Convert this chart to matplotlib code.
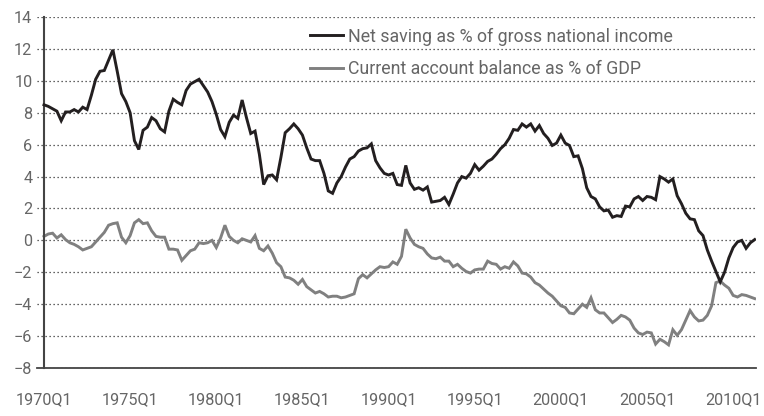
import numpy as np
import matplotlib.pyplot as plt


# quarterly values, 1970Q1 .. 2011Q2
net_saving = [
    8.5, 8.4, 8.25, 8.1, 7.5, 8.05, 8.05, 8.2, 8.05, 8.35,
    8.2, 9.1, 10.1, 10.6, 10.65, 11.3, 11.95, 10.6, 9.2, 8.7,
    8.0, 6.25, 5.7, 6.9, 7.1, 7.7, 7.5, 7.0, 6.8, 8.1,
    8.85, 8.65, 8.5, 9.4, 9.8, 9.95, 10.1, 9.7, 9.3, 8.7,
    7.9, 6.95, 6.5, 7.4, 7.85, 7.65, 8.8, 7.7, 6.7, 6.85,
    5.4, 3.5, 4.05, 4.1, 3.8, 5.2, 6.75, 7.0, 7.3, 7.0,
    6.6, 5.8, 5.1, 5.0, 5.0, 4.2, 3.1, 2.95, 3.6, 4.0,
    4.6, 5.1, 5.25, 5.6, 5.75, 5.8, 6.05, 5.0, 4.55, 4.2,
    4.1, 4.2, 3.5, 3.45, 4.7, 3.6, 3.2, 3.3, 3.15, 3.35,
    2.4, 2.45, 2.5, 2.7, 2.25, 2.9, 3.6, 4.0, 3.9, 4.2,
    4.75, 4.4, 4.65, 4.95, 5.1, 5.4, 5.75, 6.0, 6.4, 6.95,
    6.9, 7.3, 7.1, 7.3, 6.85, 7.2, 6.7, 6.4, 5.95, 6.1,
    6.6, 6.1, 5.95, 5.25, 5.3, 4.5, 3.3, 2.75, 2.6, 2.1,
    1.85, 1.9, 1.45, 1.55, 1.5, 2.15, 2.1, 2.6, 2.75, 2.5,
    2.75, 2.7, 2.55, 4.0, 3.85, 3.65, 3.85, 2.8, 2.3, 1.7,
    1.35, 1.3, 0.6, 0.3, -0.6, -1.3, -1.95, -2.6, -2.0, -1.1,
    -0.45, -0.1, 0.0, -0.5, -0.15, 0.05,
]
current_account = [
    0.25, 0.4, 0.45, 0.15, 0.35, 0.05, -0.15, -0.25, -0.4, -0.6,
    -0.5, -0.4, -0.1, 0.2, 0.5, 0.95, 1.05, 1.1, 0.2, -0.15,
    0.3, 1.1, 1.3, 1.05, 1.1, 0.6, 0.25, 0.2, 0.2, -0.55,
    -0.55, -0.6, -1.25, -0.95, -0.65, -0.55, -0.15, -0.2, -0.15, 0.0,
    -0.45, 0.15, 0.95, 0.25, 0.0, -0.15, 0.1, 0.0, -0.1, 0.3,
    -0.5, -0.65, -0.35, -0.8, -1.4, -1.65, -2.3, -2.35, -2.5, -2.75,
    -2.45, -2.9, -3.1, -3.3, -3.2, -3.35, -3.55, -3.5, -3.5, -3.6,
    -3.55, -3.45, -3.35, -2.4, -2.15, -2.35, -2.1, -1.85, -1.65, -1.7,
    -1.65, -1.35, -1.5, -1.0, 0.7, 0.15, -0.25, -0.4, -0.5, -0.85,
    -1.1, -1.15, -1.05, -1.3, -1.3, -1.65, -1.5, -1.75, -1.95, -2.05,
    -1.85, -1.8, -1.8, -1.3, -1.45, -1.5, -1.8, -1.65, -1.75, -1.35,
    -1.6, -2.05, -2.1, -2.3, -2.65, -2.8, -3.05, -3.3, -3.5, -3.8,
    -4.1, -4.2, -4.55, -4.6, -4.3, -4.0, -4.2, -3.6, -4.35, -4.55,
    -4.55, -4.85, -5.15, -4.95, -4.7, -4.8, -5.0, -5.5, -5.8, -5.9,
    -5.75, -5.8, -6.5, -6.2, -6.35, -6.55, -5.6, -5.95, -5.6, -5.0,
    -4.4, -4.8, -5.05, -5.0, -4.7, -4.1, -2.65, -2.55, -2.8, -3.0,
    -3.45, -3.55, -3.4, -3.45, -3.55, -3.65,
]
tick_labels = ['1970Q1', '1975Q1', '1980Q1', '1985Q1', '1990Q1',
               '1995Q1', '2000Q1', '2005Q1', '2010Q1']
label_saving = 'Net saving as % of gross national income'
label_account = 'Current account balance as % of GDP'

TEXT_GRAY = '#666666'

plt.rcParams['font.family'] = ['Roboto', 'DejaVu Sans']

fig = plt.figure(figsize=(7.64, 4.16), dpi=100)
ax = fig.add_axes([0.048, 0.1154, 0.9415, 0.8436])

t = np.arange(len(net_saving))
ax.plot(t, net_saving, color='#231f20', lw=2.1, label=label_saving,
        solid_joinstyle='miter', zorder=3)
ax.plot(t, current_account, color='#808080', lw=2.1, label=label_account,
        solid_joinstyle='miter', zorder=2)

ax.set_xlim(-1.7, 165.3)
ax.set_ylim(-8, 14)
ax.set_yticks(np.arange(-8, 15, 2))
ax.set_xticks(np.arange(0, 20 * len(tick_labels), 20))
ax.set_xticklabels(tick_labels)
ax.tick_params(axis='both', length=0, labelsize=11.7, labelcolor=TEXT_GRAY)
ax.tick_params(axis='x', pad=17.5)
ax.tick_params(axis='y', pad=8.4)

ax.grid(axis='y', linestyle=(0, (1, 2.2)), color='#333333', lw=0.9)
for s in ['top', 'right']:
    ax.spines[s].set_visible(False)
ax.spines['left'].set_position(('data', 0))
ax.spines['left'].set_color('#444444')
ax.spines['left'].set_linewidth(1.5)
ax.spines['bottom'].set_color('#444444')
ax.spines['bottom'].set_linewidth(1.3)
ax.set_axisbelow(True)

leg = ax.legend(loc='upper left', bbox_to_anchor=(0.38, 0.97), frameon=False,
                fontsize=12.8, handlelength=1.85, handletextpad=0.28,
                labelspacing=0.8, borderaxespad=0.0, borderpad=0.0)
for txt in leg.get_texts():
    txt.set_color(TEXT_GRAY)

fig.savefig('out.png', dpi=100)
